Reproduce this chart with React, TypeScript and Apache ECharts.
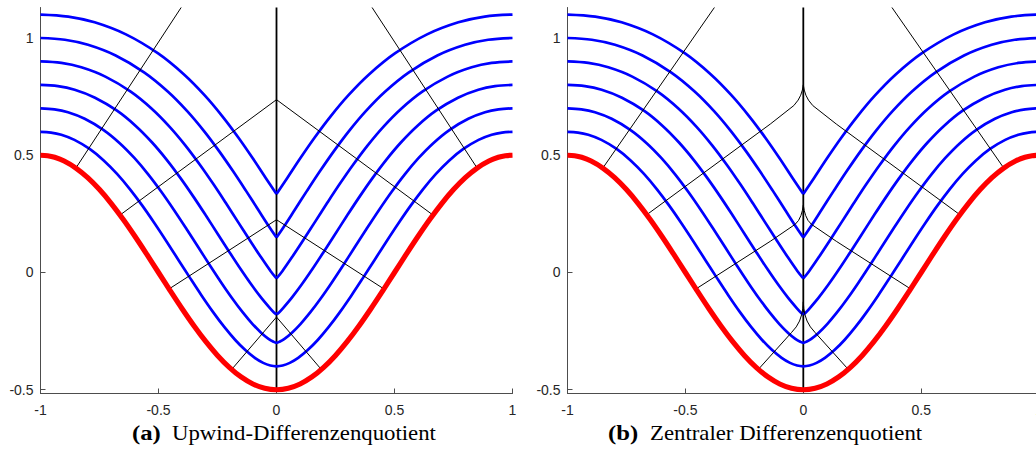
import { useEffect, useRef } from "react";
import * as echarts from "echarts";

// Axis ticks shared by both panels
const yTickValues = [-0.5, 0, 0.5, 1];
const xRange = [-1, 1];
const xStep = 0.5;
const yRange = [-0.516, 1.13];

// Initial front (red)
const initialFront = [
  [-1, 0.5], [-0.97, 0.4978], [-0.94, 0.4912], [-0.9, 0.4755], [-0.85, 0.4455], [-0.8, 0.4045],
  [-0.75, 0.3536], [-0.7, 0.2939], [-0.65, 0.227], [-0.6, 0.1545], [-0.55, 0.0782], [-0.5, 0],
  [-0.45, -0.0782], [-0.4, -0.1545], [-0.35, -0.227], [-0.3, -0.2939], [-0.25, -0.3536],
  [-0.2, -0.4045], [-0.15, -0.4455], [-0.1, -0.4755], [-0.05, -0.4939], [0, -0.5],
  [0.05, -0.4939], [0.1, -0.4755], [0.15, -0.4455], [0.2, -0.4045], [0.25, -0.3536],
  [0.3, -0.2939], [0.35, -0.227], [0.4, -0.1545], [0.45, -0.0782], [0.5, 0], [0.55, 0.0782],
  [0.6, 0.1545], [0.65, 0.227], [0.7, 0.2939], [0.75, 0.3536], [0.8, 0.4045], [0.85, 0.4455],
  [0.9, 0.4755], [0.94, 0.4912], [0.97, 0.4978], [1, 0.5],
];

// Fronts after t = 0.1 and t = 0.2 (still smooth at x = 0)
const front01 = [
  [-1, 0.6], [-0.9554, 0.5967], [-0.9118, 0.5871], [-0.8563, 0.5655], [-0.7919, 0.5269],
  [-0.7322, 0.478], [-0.6757, 0.4205], [-0.6214, 0.3557], [-0.5686, 0.2851], [-0.5169, 0.2101],
  [-0.4659, 0.1324], [-0.4156, 0.0537], [-0.3659, -0.024], [-0.3169, -0.0989], [-0.2686, -0.1689],
  [-0.2214, -0.2321], [-0.1757, -0.2867], [-0.1322, -0.331], [-0.0919, -0.3641], [-0.0563, -0.3855],
  [-0.0261, -0.3968], [0, -0.4], [0.0261, -0.3968], [0.0563, -0.3855], [0.0919, -0.3641],
  [0.1322, -0.331], [0.1757, -0.2867], [0.2214, -0.2321], [0.2686, -0.1689], [0.3169, -0.0989],
  [0.3659, -0.024], [0.4156, 0.0537], [0.4659, 0.1324], [0.5169, 0.2101], [0.5686, 0.2851],
  [0.6214, 0.3557], [0.6757, 0.4205], [0.7322, 0.478], [0.7919, 0.5269], [0.8563, 0.5655],
  [0.9118, 0.5871], [0.9554, 0.5967], [1, 0.6],
];
const front02 = [
  [-1, 0.7], [-0.9408, 0.6956], [-0.8835, 0.6831], [-0.8127, 0.6554], [-0.7339, 0.6083],
  [-0.6643, 0.5514], [-0.6014, 0.4874], [-0.5428, 0.4176], [-0.4873, 0.3433], [-0.4338, 0.2657],
  [-0.3819, 0.1866], [-0.3313, 0.1074], [-0.2819, 0.0302], [-0.2338, -0.0433], [-0.1873, -0.1107],
  [-0.1428, -0.1702], [-0.1014, -0.2198], [-0.0643, -0.2576], [-0.0339, -0.2827], [-0.0127, -0.2956],
  [0, -0.3], [0.0127, -0.2956], [0.0339, -0.2827], [0.0643, -0.2576], [0.1014, -0.2198],
  [0.1428, -0.1702], [0.1873, -0.1107], [0.2338, -0.0433], [0.2819, 0.0302], [0.3313, 0.1074],
  [0.3819, 0.1866], [0.4338, 0.2657], [0.4873, 0.3433], [0.5428, 0.4176], [0.6014, 0.4874],
  [0.6643, 0.5514], [0.7339, 0.6083], [0.8127, 0.6554], [0.8835, 0.6831], [0.9408, 0.6956], [1, 0.7],
];

// Later fronts carry a kink at x = 0: left and right branches
const front03Left = [
  [-1, 0.8], [-0.9261, 0.7946], [-0.8553, 0.779], [-0.769, 0.7454], [-0.6758, 0.6898],
  [-0.5965, 0.6249], [-0.527, 0.5543], [-0.4642, 0.4794], [-0.4059, 0.4014], [-0.3507, 0.3214],
  [-0.2978, 0.2407], [-0.2469, 0.1611], [-0.1978, 0.0843], [-0.1507, 0.0124], [-0.1059, -0.0526],
  [-0.0642, -0.1084], [-0.027, -0.1529], [-0.0108, -0.1702], [0, -0.178],
];
const front03Right = [
  [0, -0.178], [0.0108, -0.1702], [0.027, -0.1529], [0.0642, -0.1084], [0.1059, -0.0526],
  [0.1507, 0.0124], [0.1978, 0.0843], [0.2469, 0.1611], [0.2978, 0.2407], [0.3507, 0.3214],
  [0.4059, 0.4014], [0.4642, 0.4794], [0.527, 0.5543], [0.5965, 0.6249], [0.6758, 0.6898],
  [0.769, 0.7454], [0.8553, 0.779], [0.9261, 0.7946], [1, 0.8],
];
const front04Left = [
  [-1, 0.9], [-0.9115, 0.8935], [-0.827, 0.8749], [-0.7253, 0.8353], [-0.6177, 0.7712],
  [-0.5286, 0.6984], [-0.4527, 0.6212], [-0.3856, 0.5413], [-0.3246, 0.4595], [-0.2676, 0.377],
  [-0.2138, 0.2949], [-0.1626, 0.2148], [-0.1138, 0.1385], [-0.0676, 0.068], [-0.0246, 0.0055],
  [0, -0.025],
];
const front04Right = [
  [0, -0.025], [0.0246, 0.0055], [0.0676, 0.068], [0.1138, 0.1385], [0.1626, 0.2148],
  [0.2138, 0.2949], [0.2676, 0.377], [0.3246, 0.4595], [0.3856, 0.5413], [0.4527, 0.6212],
  [0.5286, 0.6984], [0.6177, 0.7712], [0.7253, 0.8353], [0.827, 0.8749], [0.9115, 0.8935], [1, 0.9],
];
const front05Left = [
  [-1, 1], [-0.8969, 0.9924], [-0.7988, 0.9709], [-0.6816, 0.9253], [-0.5596, 0.8526],
  [-0.4608, 0.7719], [-0.3784, 0.6882], [-0.307, 0.6031], [-0.2432, 0.5177], [-0.1845, 0.4326],
  [-0.1297, 0.3491], [-0.0782, 0.2685], [-0.0297, 0.1927], [0, 0.149],
];
const front05Right = [
  [0, 0.149], [0.0297, 0.1927], [0.0782, 0.2685], [0.1297, 0.3491], [0.1845, 0.4326],
  [0.2432, 0.5177], [0.307, 0.6031], [0.3784, 0.6882], [0.4608, 0.7719], [0.5596, 0.8526],
  [0.6816, 0.9253], [0.7988, 0.9709], [0.8969, 0.9924], [1, 1],
];
const front06Left = [
  [-1, 1.1], [-0.8823, 1.0913], [-0.7706, 1.0668], [-0.638, 1.0153], [-0.5016, 0.934],
  [-0.393, 0.8453], [-0.3041, 0.7551], [-0.2285, 0.6649], [-0.1618, 0.5758], [-0.1014, 0.4882],
  [-0.0457, 0.4033], [0, 0.335],
];
const front06Right = [
  [0, 0.335], [0.0457, 0.4033], [0.1014, 0.4882], [0.1618, 0.5758], [0.2285, 0.6649],
  [0.3041, 0.7551], [0.393, 0.8453], [0.5016, 0.934], [0.638, 1.0153], [0.7706, 1.0668],
  [0.8823, 1.0913], [1, 1.1],
];

const blueBranches = [
  front01, front02,
  front03Left, front03Right, front04Left, front04Right,
  front05Left, front05Right, front06Left, front06Right,
];

// Characteristics, upwind scheme
const upwindRays = [
  [[-0.85, 0.4455], [-0.404, 1.13]],
  [[0.85, 0.4455], [0.405, 1.13]],
  [[-0.663, 0.245], [0, 0.737], [0.663, 0.245]],
  [[-0.455, -0.07], [0, 0.225], [0.455, -0.07]],
  [[-0.19, -0.4135], [0, -0.19], [0.19, -0.4135]],
];

// Characteristics, central scheme (cusps along x = 0)
const centralRays = [
  [[-0.849, 0.447], [-0.377, 1.13]],
  [[0.849, 0.447], [0.376, 1.13]],
  [
    [-0.663, 0.247], [-0.14, 0.633], [-0.04, 0.712], [-0.022, 0.735], [-0.011, 0.756], [-0.004, 0.778],
    [0, 0.8],
    [0.004, 0.778], [0.011, 0.756], [0.022, 0.735], [0.04, 0.712], [0.14, 0.633], [0.663, 0.247],
  ],
  [
    [-0.455, -0.07], [-0.14, 0.133], [-0.035, 0.205], [-0.02, 0.222], [-0.01, 0.243], [-0.004, 0.264],
    [0, 0.287],
    [0.004, 0.264], [0.01, 0.243], [0.02, 0.222], [0.035, 0.205], [0.14, 0.133], [0.455, -0.07],
  ],
  [
    [-0.191, -0.4135], [-0.05, -0.256], [-0.03, -0.232], [-0.016, -0.207], [-0.007, -0.18], [-0.002, -0.153],
    [0, -0.125],
    [0.002, -0.153], [0.007, -0.18], [0.016, -0.207], [0.03, -0.232], [0.05, -0.256], [0.191, -0.4135],
  ],
];

const symmetryAxis = [[0, -0.5], [0, 1.13]];

const captionTags = ["(a)", "(b)"];
const captionTitles = ["Upwind-Differenzenquotient", "Zentraler Differenzenquotient"];

// Plot rectangles in pixels; the chart canvas is wider than the visible page
// so the second panel can run past the right edge
const canvasWidth = 1046;
const gridBoxes = [
  { left: 40.5, width: 472 },
  { left: 567.5, width: 472 },
];
const axisGray = "#4d4d4d";

function line(data: number[][], idx: number, color: string, width: number, z: number, smooth: number | boolean) {
  return {
    type: "line",
    xAxisIndex: idx,
    yAxisIndex: idx,
    data,
    showSymbol: false,
    symbol: "none",
    smooth,
    clip: true,
    silent: true,
    z,
    lineStyle: { color, width, cap: "butt", join: "miter" },
  };
}

export default function App() {
  const ref = useRef<HTMLDivElement>(null);

  useEffect(() => {
    if (!ref.current) return;
    const chart = echarts.init(ref.current, undefined, { renderer: "svg" });

    const grids = gridBoxes.map((b) => ({ left: b.left, width: b.width, top: 7.5, height: 386 }));
    const xAxes = gridBoxes.map((_, i) => ({
      type: "value",
      gridIndex: i,
      min: xRange[0],
      max: xRange[1],
      interval: xStep,
      axisLine: { show: true, onZero: false, lineStyle: { color: axisGray, width: 1 } },
      axisTick: { show: true, inside: true, length: 5, lineStyle: { color: axisGray } },
      axisLabel: { color: "#262626", fontSize: 14, fontFamily: "Liberation Sans", margin: 9 },
      splitLine: { show: false },
    }));
    const yAxes = gridBoxes.map((_, i) => ({
      type: "value",
      gridIndex: i,
      min: yRange[0],
      max: yRange[1],
      axisLine: { show: true, onZero: false, lineStyle: { color: axisGray, width: 1 } },
      axisTick: { show: true, inside: true, length: 5, customValues: yTickValues, lineStyle: { color: axisGray } },
      axisLabel: { color: "#262626", fontSize: 14, fontFamily: "Liberation Sans", margin: 7, customValues: yTickValues },
      splitLine: { show: false },
    }));

    const series: any[] = [];
    [upwindRays, centralRays].forEach((rays, idx) => {
      series.push(line(symmetryAxis, idx, "#000000", 1.8, 1, false));
      blueBranches.forEach((b) => series.push(line(b, idx, "#0000ff", 2.7, 2, 0.35)));
      rays.forEach((r) => series.push(line(r, idx, "#000000", 1, 3, false)));
      series.push(line(initialFront, idx, "#ff0000", 5.2, 4, 0.35));
    });

    // Sub-figure captions: bold tag followed by the title
    const captionX = [[132, 172], [608, 650]];
    const graphic: any[] = [];
    captionTags.forEach((tag, i) => {
      graphic.push({
        type: "text",
        x: captionX[i][0],
        y: 422,
        scaleX: 1.15,
        style: { text: tag, font: "bold 21.5px 'Liberation Serif'", fill: "#000", verticalAlign: "top" },
      });
      graphic.push({
        type: "text",
        x: captionX[i][1],
        y: 422,
        scaleX: 1.06,
        style: { text: captionTitles[i], font: "21.5px 'Liberation Serif'", fill: "#000", verticalAlign: "top" },
      });
    });

    chart.setOption({
      animation: false,
      grid: grids,
      xAxis: xAxes,
      yAxis: yAxes,
      series,
      graphic,
    });

    return () => chart.dispose();
  }, []);

  return (
    <div style={{ position: "absolute", left: 0, top: 0, width: 1036, height: 458, overflow: "hidden", background: "#fff" }}>
      <div ref={ref} style={{ width: canvasWidth, height: 458 }} />
    </div>
  );
}
